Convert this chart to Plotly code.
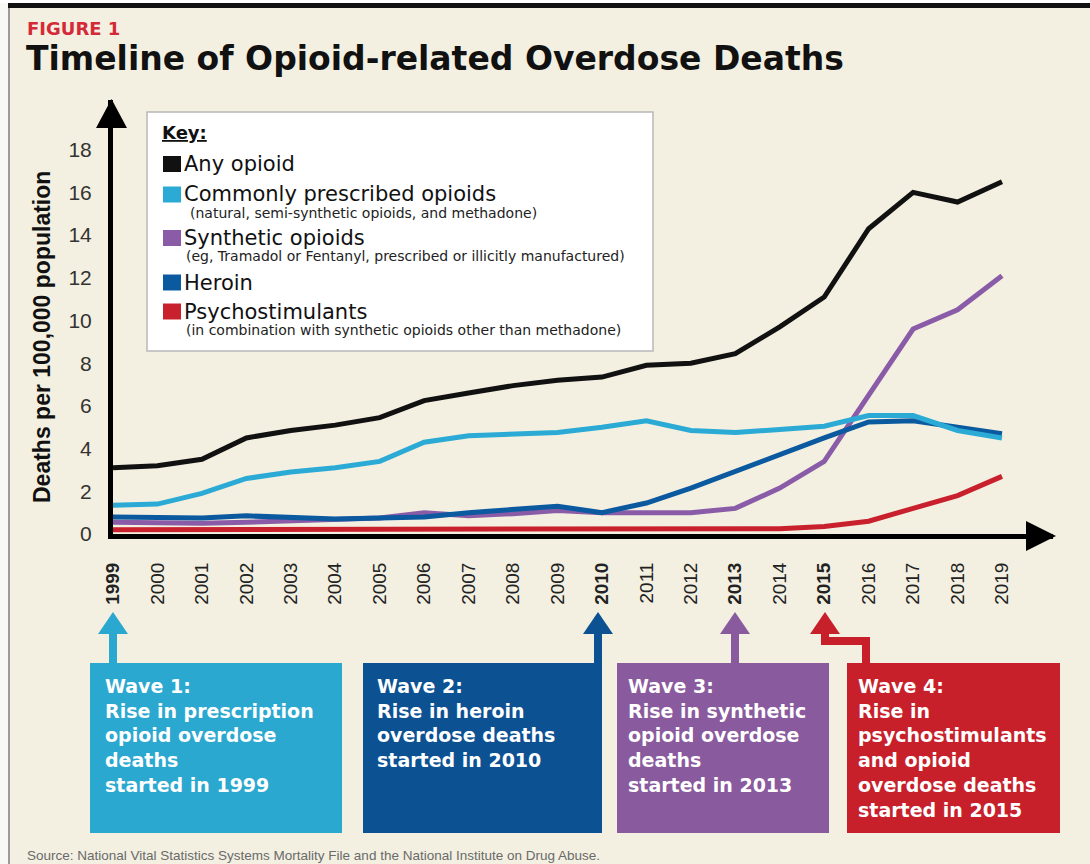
import plotly.graph_objects as go

# ---------------- data ----------------
years = list(range(1999, 2020))
year_labels = ["<b>1999</b>", "2000", "2001", "2002", "2003", "2004", "2005", "2006", "2007",
               "2008", "2009", "<b>2010</b>", "2011", "2012", "<b>2013</b>", "2014", "<b>2015</b>",
               "2016", "2017", "2018", "2019"]
y_ticks = [0, 2, 4, 6, 8, 10, 12, 14, 16, 18]

any_opioid = [3.1, 3.2, 3.5, 4.5, 4.85, 5.1, 5.45, 6.25, 6.6, 6.95, 7.2, 7.35, 7.9, 8.0, 8.45,
              9.7, 11.1, 14.3, 16.0, 15.55, 16.5]
prescribed = [1.35, 1.4, 1.9, 2.6, 2.9, 3.1, 3.4, 4.3, 4.6, 4.7, 4.75, 5.0, 5.3, 4.85, 4.75,
              4.9, 5.05, 5.55, 5.55, 4.85, 4.5]
synthetic = [0.55, 0.5, 0.5, 0.55, 0.6, 0.65, 0.75, 1.0, 0.85, 0.95, 1.1, 1.0, 1.0, 1.0, 1.2,
             2.15, 3.4, 6.5, 9.6, 10.5, 12.1]
heroin = [0.8, 0.75, 0.75, 0.85, 0.75, 0.7, 0.75, 0.8, 1.0, 1.15, 1.3, 1.0, 1.45, 2.15, 2.95,
          3.75, 4.5, 5.25, 5.3, 5.0, 4.7]
psychostim = [0.2, 0.2, 0.2, 0.2, 0.2, 0.2, 0.2, 0.2, 0.2, 0.2, 0.2, 0.2, 0.2,
              0.2, 0.2, 0.25, 0.35, 0.6, 1.2, 1.8, 2.7]

series_names = ["Any opioid", "Commonly prescribed opioids", "Synthetic opioids", "Heroin",
                "Psychostimulants"]
series_notes = ["", "(natural, semi-synthetic opioids, and methadone)",
                "(eg, Tramadol or Fentanyl, prescribed or illicitly manufactured)", "",
                "(in combination with synthetic opioids other than methadone)"]

wave_texts = [
    "Wave 1:<br>Rise in prescription<br>opioid overdose<br>deaths<br>started in 1999",
    "Wave 2:<br>Rise in heroin<br>overdose deaths<br>started in 2010",
    "Wave 3:<br>Rise in synthetic<br>opioid overdose<br>deaths<br>started in 2013",
    "Wave 4:<br>Rise in<br>psychostimulants<br>and opioid<br>overdose deaths<br>started in 2015",
]

# ---------------- styling ----------------
W, H = 1090, 864
BG = "#f3f0e1"
C_ANY = "#111111"
C_PRES = "#2aaad5"
C_SYN = "#8a5ca8"
C_HER = "#0b5aa0"
C_PSY = "#c9202d"
series_colors = [C_ANY, C_PRES, C_SYN, C_HER, C_PSY]
wave_colors = ["#2ba8d0", "#0c5192", "#8a5a9e", "#c8202b"]


def fx(px):
    return px / W


def fy(py):
    return 1 - py / H


X0, X1 = 113, 1053      # plot area pixels
Y0, Y1 = 534, 100
PX_PER_YEAR = 44.45
PX_PER_UNIT = 21.35

fig = go.Figure()

series = [(synthetic, C_SYN, series_names[2]), (heroin, C_HER, series_names[3]),
          (prescribed, C_PRES, series_names[1]), (psychostim, C_PSY, series_names[4]),
          (any_opioid, C_ANY, series_names[0])]
for vals, col, nm in series:
    fig.add_trace(go.Scatter(x=years, y=vals, mode="lines", name=nm, showlegend=False,
                             line=dict(color=col, width=5), hoverinfo="x+y+name"))

shapes = []
annotations = []

# outer frame
shapes.append(dict(type="rect", xref="paper", yref="paper", x0=fx(0), x1=fx(8), y0=fy(864), y1=fy(0),
                   fillcolor="#f8f8f4", line=dict(width=0), layer="below"))
shapes.append(dict(type="rect", xref="paper", yref="paper", x0=fx(0), x1=fx(1090), y0=fy(3), y1=fy(0),
                   fillcolor="#ffffff", line=dict(width=0), layer="below"))
shapes.append(dict(type="rect", xref="paper", yref="paper", x0=fx(8), x1=fx(1090), y0=fy(8), y1=fy(3),
                   fillcolor="#111111", line=dict(width=0), layer="above"))
shapes.append(dict(type="line", xref="paper", yref="paper", x0=fx(9), x1=fx(9), y0=fy(864), y1=fy(8),
                   line=dict(color="#9a9a9a", width=2), layer="above"))

# axis arrowheads
shapes.append(dict(type="path", xref="paper", yref="paper",
                   path=f"M {fx(96)},{fy(128)} L {fx(127)},{fy(128)} L {fx(111.5)},{fy(99)} Z",
                   fillcolor="#000000", line=dict(width=0), layer="above"))
shapes.append(dict(type="path", xref="paper", yref="paper",
                   path=f"M {fx(1026)},{fy(521)} L {fx(1026)},{fy(551)} L {fx(1056)},{fy(536)} Z",
                   fillcolor="#000000", line=dict(width=0), layer="above"))

# legend box
shapes.append(dict(type="rect", xref="paper", yref="paper", x0=fx(147), x1=fx(653), y0=fy(351), y1=fy(112),
                   fillcolor="#ffffff", line=dict(color="#b8b8b8", width=1.5), layer="above"))
annotations.append(dict(xref="paper", yref="paper", x=fx(160), y=fy(133), xanchor="left", yanchor="middle",
                        text="<b><u>Key:</u></b>", showarrow=False,
                        font=dict(family="DejaVu Sans", size=18, color="#111111")))
name_y = [164, 194.5, 238, 282.5, 311.5]
note_y = [None, 213, 256, None, 330]
note_x = [None, 188, 184, None, 184]
for i, nm in enumerate(series_names):
    cy = name_y[i]
    shapes.append(dict(type="rect", xref="paper", yref="paper", x0=fx(163), x1=fx(181),
                       y0=fy(cy + 8), y1=fy(cy - 8), fillcolor=series_colors[i],
                       line=dict(width=0), layer="above"))
    annotations.append(dict(xref="paper", yref="paper", x=fx(182), y=fy(cy), xanchor="left",
                            yanchor="middle", text=nm, showarrow=False,
                            font=dict(family="DejaVu Sans", size=21, color="#111111")))
    if series_notes[i]:
        annotations.append(dict(xref="paper", yref="paper", x=fx(note_x[i]), y=fy(note_y[i]),
                                xanchor="left", yanchor="middle", text=series_notes[i], showarrow=False,
                                font=dict(family="DejaVu Sans", size=14, color="#222222")))

# wave boxes
boxes = [(90, 342), (363, 602), (617, 829), (847, 1060)]
text_x = [103, 375, 626, 856]
for i, (bx0, bx1) in enumerate(boxes):
    col = wave_colors[i]
    shapes.append(dict(type="rect", xref="paper", yref="paper", x0=fx(bx0), x1=fx(bx1),
                       y0=fy(833), y1=fy(663), fillcolor=col, line=dict(width=0), layer="above"))
    annotations.append(dict(xref="paper", yref="paper", x=fx(text_x[i]), y=fy(673), xanchor="left",
                            yanchor="top", align="left", text="<b>" + wave_texts[i] + "</b>",
                            showarrow=False,
                            font=dict(family="DejaVu Sans", size=19, color="#ffffff")))

# arrows from boxes to the axis years
arrow_x = [113, 598, 735, 825]
for i, ax in enumerate(arrow_x):
    col = wave_colors[i]
    shapes.append(dict(type="path", xref="paper", yref="paper",
                       path=f"M {fx(ax - 15)},{fy(634)} L {fx(ax + 15)},{fy(634)} L {fx(ax)},{fy(612)} Z",
                       fillcolor=col, line=dict(width=0), layer="above"))
    if i < 3:
        shapes.append(dict(type="rect", xref="paper", yref="paper", x0=fx(ax - 4), x1=fx(ax + 4),
                           y0=fy(664), y1=fy(630), fillcolor=col, line=dict(width=0), layer="above"))
    else:
        shapes.append(dict(type="path", xref="paper", yref="paper",
                           path=(f"M {fx(ax - 4)},{fy(630)} L {fx(ax + 4)},{fy(630)} L {fx(ax + 4)},{fy(637)} "
                                 f"L {fx(870)},{fy(637)} L {fx(870)},{fy(664)} L {fx(862)},{fy(664)} "
                                 f"L {fx(862)},{fy(645)} L {fx(ax - 4)},{fy(645)} Z"),
                           fillcolor=col, line=dict(width=0), layer="above"))

# titles and source
annotations.append(dict(xref="paper", yref="paper", x=fx(25), y=fy(28), xanchor="left", yanchor="middle",
                        text="<b>FIGURE 1</b>", showarrow=False,
                        font=dict(family="DejaVu Sans", size=18, color="#d42a38")))
annotations.append(dict(xref="paper", yref="paper", x=fx(24), y=fy(58), xanchor="left", yanchor="middle",
                        text="<b>Timeline of Opioid-related Overdose Deaths</b>", showarrow=False,
                        font=dict(family="DejaVu Sans", size=33, color="#111111")))
annotations.append(dict(xref="paper", yref="paper", x=fx(42), y=fy(337), xanchor="center", yanchor="middle",
                        text="<b>Deaths per 100,000 population</b>", textangle=-90, showarrow=False,
                        font=dict(family="Liberation Sans, Arial", size=23, color="#111111")))
annotations.append(dict(xref="paper", yref="paper", x=fx(25), y=fy(855), xanchor="left", yanchor="middle",
                        text="Source: National Vital Statistics Systems Mortality File and the National Institute on Drug Abuse.",
                        showarrow=False,
                        font=dict(family="Liberation Sans, Arial", size=13.5, color="#6a6a6a")))

fig.update_layout(
    width=W, height=H,
    margin=dict(l=0, r=0, t=0, b=0),
    paper_bgcolor=BG, plot_bgcolor="rgba(0,0,0,0)",
    showlegend=False,
    shapes=shapes, annotations=annotations,
    xaxis=dict(domain=[fx(X0), fx(X1)], range=[1999, 1999 + (X1 - X0) / PX_PER_YEAR],
               showgrid=False, zeroline=False, showline=True, linecolor="#000000", linewidth=5,
               tickmode="array", tickvals=years, ticktext=year_labels, tickangle=-90,
               ticks="outside", ticklen=16, tickcolor="rgba(0,0,0,0)",
               tickfont=dict(family="Liberation Sans, Arial", size=19, color="#222222"),
               automargin=False, fixedrange=True),
    yaxis=dict(domain=[fy(Y0), fy(Y1)], range=[0, (Y0 - Y1) / PX_PER_UNIT],
               showgrid=False, zeroline=False, showline=True, linecolor="#000000", linewidth=5,
               tickmode="array", tickvals=y_ticks, ticktext=[str(v) for v in y_ticks],
               ticks="outside", ticklen=12, tickcolor="rgba(0,0,0,0)",
               tickfont=dict(family="Liberation Sans, Arial", size=21, color="#333333"),
               automargin=False, fixedrange=True),
)

fig.write_html("out.html")
